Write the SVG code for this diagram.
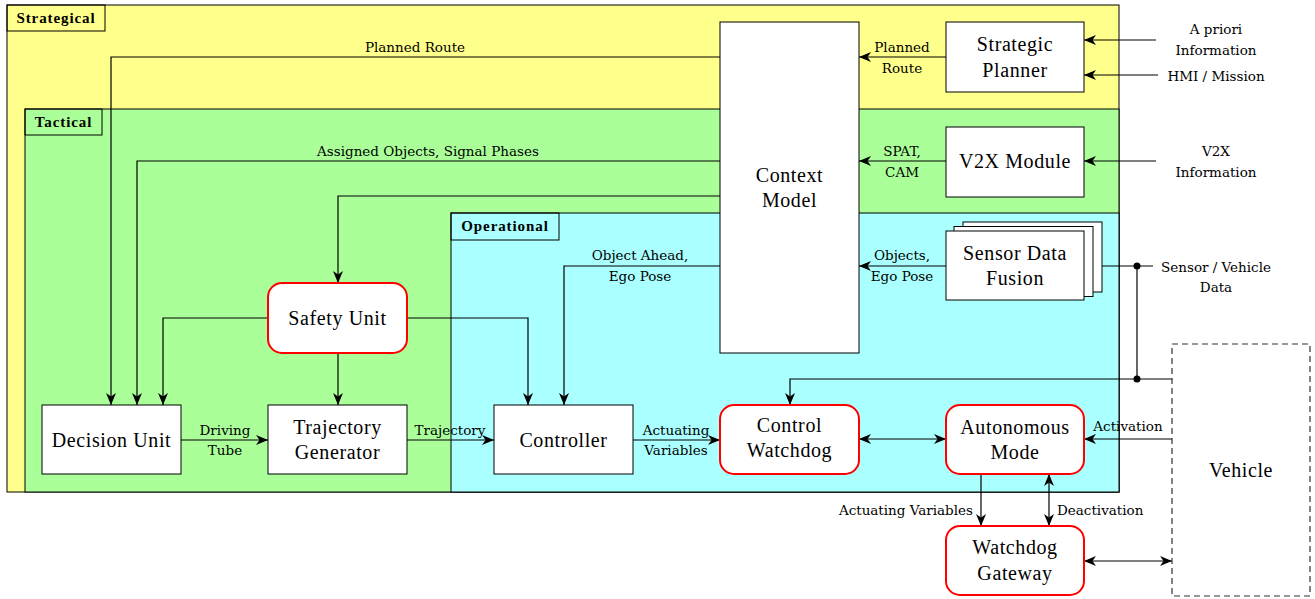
<svg xmlns="http://www.w3.org/2000/svg" width="1315" height="599" viewBox="0 0 1315 599">
  <defs>
    <marker id="arr" viewBox="0 0 12 10" refX="12" refY="5" markerWidth="12" markerHeight="10" markerUnits="userSpaceOnUse" orient="auto-start-reverse">
      <path d="M0,0 L12,5 L0,10 L3.5,5 z" fill="#000"/>
    </marker>
    <style>
      .layer { stroke: #000; stroke-width: 1; }
      .tag { fill: none; stroke: #000; stroke-width: 1; }
      .tagtxt { font-family: Liberation Serif, serif; font-weight: bold; font-size: 15px; letter-spacing: 0.9px; text-anchor: middle; fill: #000; }
      .box { fill: #fff; stroke: #000; stroke-width: 1; }
      .safe { fill: #fff; stroke: #ff0000; stroke-width: 2; }
      .veh { fill: #fff; stroke: #333; stroke-width: 1.2; stroke-dasharray: 6 4; }
      .ntxt { font-family: "Times New Roman", Times, serif; font-size: 20px; letter-spacing: 0.6px; text-anchor: middle; fill: #000; }
      .ltxt { font-family: "DejaVu Serif", serif; font-size: 13.5px; text-anchor: middle; fill: #000; }
      .wire { fill: none; stroke: #000; stroke-width: 1.2; }
      .arr { marker-end: url(#arr); }
      .dbl { marker-start: url(#arr); marker-end: url(#arr); }
    </style>
  </defs>

  <rect width="1315" height="599" fill="#fff"/>

  <!-- Layers -->
  <g id="layer-strategical">
    <rect class="layer" x="7" y="5" width="1112" height="487" fill="#ffff8c"/>
    <rect class="tag" x="7" y="5" width="98" height="26"/>
    <text class="tagtxt" x="56" y="23">Strategical</text>
  </g>
  <g id="layer-tactical">
    <rect class="layer" x="25" y="109" width="1094" height="383" fill="#aaff99"/>
    <rect class="tag" x="25" y="109" width="77" height="26"/>
    <text class="tagtxt" x="63.5" y="127">Tactical</text>
  </g>
  <g id="layer-operational">
    <rect class="layer" x="451" y="213" width="668" height="279" fill="#aaffff"/>
    <rect class="tag" x="451" y="213" width="108" height="27"/>
    <text class="tagtxt" x="505" y="231">Operational</text>
  </g>

  <!-- Connectors -->
  <g id="connectors">
    <!-- context model outputs -->
    <polyline class="wire arr" points="720,57 111,57 111,405"/>
    <polyline class="wire arr" points="720,161 137,161 137,405"/>
    <polyline class="wire arr" points="720,196 338,196 338,283"/>
    <polyline class="wire arr" points="720,266 564,266 564,405"/>
    <!-- safety unit outputs -->
    <polyline class="wire arr" points="268,318 163,318 163,405"/>
    <polyline class="wire arr" points="407,318 528,318 528,405"/>
    <line class="wire arr" x1="338" y1="353" x2="338" y2="405"/>
    <!-- main chain -->
    <line class="wire arr" x1="181" y1="440" x2="268" y2="440"/>
    <line class="wire arr" x1="407" y1="440" x2="494" y2="440"/>
    <line class="wire arr" x1="633" y1="440" x2="720" y2="440"/>
    <line class="wire dbl" x1="859" y1="439" x2="946" y2="439"/>
    <line class="wire arr" x1="1172" y1="439" x2="1084" y2="439"/>
    <line class="wire arr" x1="981" y1="474" x2="981" y2="526"/>
    <line class="wire dbl" x1="1049" y1="474" x2="1049" y2="526"/>
    <line class="wire dbl" x1="1084" y1="561" x2="1172" y2="561"/>
    <!-- inputs to context model -->
    <line class="wire arr" x1="946" y1="57" x2="859" y2="57"/>
    <line class="wire arr" x1="946" y1="161" x2="859" y2="161"/>
    <line class="wire arr" x1="946" y1="266" x2="859" y2="266"/>
    <!-- external inputs -->
    <line class="wire arr" x1="1156" y1="40" x2="1084" y2="40"/>
    <line class="wire arr" x1="1158" y1="75" x2="1084" y2="75"/>
    <line class="wire arr" x1="1156" y1="161" x2="1084" y2="161"/>
    <line class="wire arr" x1="1153" y1="266" x2="1084" y2="266"/>
    <line class="wire" x1="1137" y1="266" x2="1137" y2="379"/>
    <polyline class="wire arr" points="1172,379 790,379 790,405"/>
    <circle cx="1137" cy="266" r="3.5" fill="#000"/>
    <circle cx="1137" cy="379" r="3.5" fill="#000"/>

    <!-- connector labels -->
    <text class="ltxt" x="415" y="52">Planned Route</text>
    <text class="ltxt" x="428" y="156">Assigned Objects, Signal Phases</text>
    <text class="ltxt" x="640" y="260">Object Ahead,</text>
    <text class="ltxt" x="640" y="281">Ego Pose</text>
    <text class="ltxt" x="902" y="52">Planned</text>
    <text class="ltxt" x="902" y="73">Route</text>
    <text class="ltxt" x="902" y="156">SPAT,</text>
    <text class="ltxt" x="902" y="177">CAM</text>
    <text class="ltxt" x="902" y="260">Objects,</text>
    <text class="ltxt" x="902" y="281">Ego Pose</text>
    <text class="ltxt" x="1216" y="34">A priori</text>
    <text class="ltxt" x="1216" y="55">Information</text>
    <text class="ltxt" x="1216" y="81">HMI / Mission</text>
    <text class="ltxt" x="1216" y="156">V2X</text>
    <text class="ltxt" x="1216" y="177">Information</text>
    <text class="ltxt" x="1216" y="272">Sensor / Vehicle</text>
    <text class="ltxt" x="1216" y="292">Data</text>
    <text class="ltxt" x="225" y="435">Driving</text>
    <text class="ltxt" x="225" y="455">Tube</text>
    <text class="ltxt" x="450" y="435">Trajectory</text>
    <text class="ltxt" x="676" y="435">Actuating</text>
    <text class="ltxt" x="676" y="455">Variables</text>
    <text class="ltxt" x="1128" y="431">Activation</text>
    <text class="ltxt" x="973" y="515" style="text-anchor:end">Actuating Variables</text>
    <text class="ltxt" x="1057" y="515" style="text-anchor:start">Deactivation</text>
  </g>

  <!-- Nodes -->
  <g id="context-model">
    <rect class="box" x="720" y="22" width="139" height="331"/>
    <text class="ntxt" x="789.5" y="182">Context</text>
    <text class="ntxt" x="789.5" y="207">Model</text>
  </g>
  <g id="strategic-planner">
    <rect class="box" x="946" y="22" width="138" height="70"/>
    <text class="ntxt" x="1015" y="51">Strategic</text>
    <text class="ntxt" x="1015" y="77">Planner</text>
  </g>
  <g id="v2x-module">
    <rect class="box" x="946" y="127" width="138" height="70"/>
    <text class="ntxt" x="1015" y="168">V2X Module</text>
  </g>
  <g id="sensor-data-fusion">
    <rect class="box" x="963" y="222" width="139" height="70"/>
    <rect class="box" x="954" y="226.5" width="139" height="70"/>
    <rect class="box" x="946" y="231" width="138" height="69"/>
    <text class="ntxt" x="1015" y="260">Sensor Data</text>
    <text class="ntxt" x="1015" y="285">Fusion</text>
  </g>
  <g id="safety-unit">
    <rect class="safe" x="268" y="283" width="139" height="70" rx="14"/>
    <text class="ntxt" x="337.5" y="325">Safety Unit</text>
  </g>
  <g id="decision-unit">
    <rect class="box" x="42" y="405" width="139" height="69"/>
    <text class="ntxt" x="111.5" y="447">Decision Unit</text>
  </g>
  <g id="trajectory-generator">
    <rect class="box" x="268" y="405" width="139" height="69"/>
    <text class="ntxt" x="337.5" y="434">Trajectory</text>
    <text class="ntxt" x="337.5" y="459">Generator</text>
  </g>
  <g id="controller">
    <rect class="box" x="494" y="405" width="139" height="69"/>
    <text class="ntxt" x="563.5" y="447">Controller</text>
  </g>
  <g id="control-watchdog">
    <rect class="safe" x="720" y="405" width="139" height="69" rx="14"/>
    <text class="ntxt" x="789.5" y="432">Control</text>
    <text class="ntxt" x="789.5" y="457">Watchdog</text>
  </g>
  <g id="autonomous-mode">
    <rect class="safe" x="946" y="405" width="138" height="69" rx="14"/>
    <text class="ntxt" x="1015" y="434">Autonomous</text>
    <text class="ntxt" x="1015" y="459">Mode</text>
  </g>
  <g id="watchdog-gateway">
    <rect class="safe" x="946" y="526" width="138" height="69" rx="14"/>
    <text class="ntxt" x="1015" y="554">Watchdog</text>
    <text class="ntxt" x="1015" y="580">Gateway</text>
  </g>
  <g id="vehicle">
    <rect class="veh" x="1172" y="344" width="138" height="252"/>
    <text class="ntxt" x="1241" y="477">Vehicle</text>
  </g>
</svg>
